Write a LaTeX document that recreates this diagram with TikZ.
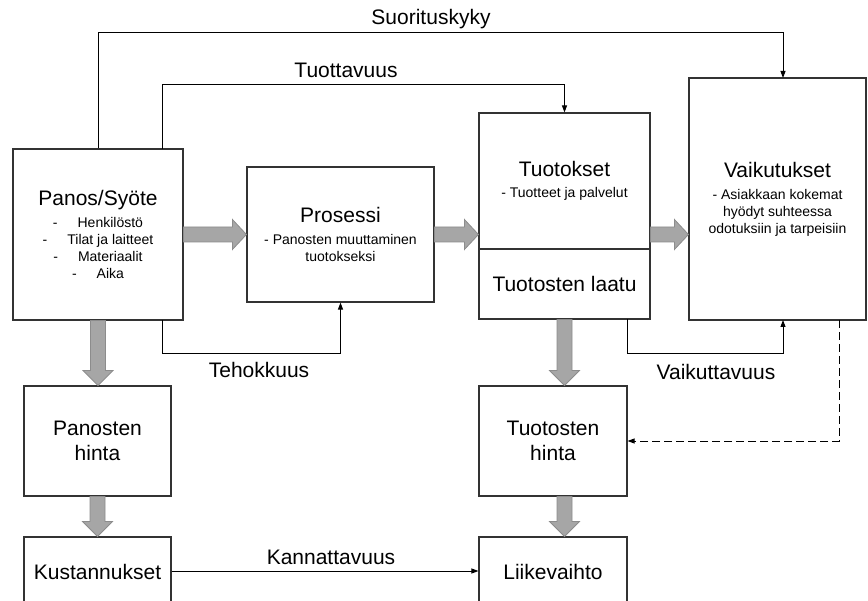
\documentclass[tikz,border=0pt]{standalone}
\usepackage{fontspec}
\setmainfont{Liberation Sans}
\usetikzlibrary{arrows.meta,calc}

\begin{document}
\begin{tikzpicture}[x=1pt,y=-1pt,
  box/.style={draw=black!80, line width=1.1pt, fill=white, inner sep=0pt,
    align=center, font=\fontsize{14}{17}\selectfont},
  bigbox/.style={box, font=\fontsize{21}{25}\selectfont},
  lbl/.style={inner sep=0pt, font=\fontsize{21}{25}\selectfont},
  conn/.style={draw=black, line width=0.9pt, -{Triangle[length=7pt,width=5pt]}},
  dconn/.style={conn, dash pattern=on 8pt off 4pt},
  blockarrow/.style={fill=black!35, draw=black!45, line width=0.8pt},
  % broad arrow pointing down: x taken from the start, tip at the target's y
  fatdown/.style={blockarrow, to path={
    let \p1=(\tikztostart), \p2=(\tikztotarget) in
    (\x1-7.5pt,\y1) -- (\x1-7.5pt,\y2+15pt) -- (\x1-15pt,\y2+15pt) -- (\x1,\y2)
    -- (\x1+15pt,\y2+15pt) -- (\x1+7.5pt,\y2+15pt) -- (\x1+7.5pt,\y1) -- cycle}},
  % broad arrow pointing right: y taken from the start, tip at the target's x
  fatright/.style={blockarrow, to path={
    let \p1=(\tikztostart), \p2=(\tikztotarget) in
    (\x1,\y1+7.5pt) -- (\x2-14pt,\y1+7.5pt) -- (\x2-14pt,\y1+15pt) -- (\x2,\y1)
    -- (\x2-14pt,\y1-15pt) -- (\x2-14pt,\y1-7.5pt) -- (\x1,\y1-7.5pt) -- cycle}}
]
\useasboundingbox (0,0) rectangle (868,601);
\clip (0,0) rectangle (868,601);

% boxes
\node[box, minimum width=170pt, minimum height=171pt] (pan) at (98,234.5)
  {{\fontsize{21}{17}\selectfont Panos/Syöte}\\[5pt]
   -\hspace{20pt}Henkilöstö\\
   -\hspace{20pt}Tilat ja laitteet\\
   -\hspace{20pt}Materiaalit\\
   -\hspace{20pt}Aika};
\node[box, minimum width=187pt, minimum height=135pt] (pro) at (340.5,234.5)
  {{\fontsize{21}{17}\selectfont Prosessi}\\[5pt]
   - Panosten muuttaminen\\ tuotokseksi};
\node[box, minimum width=171pt, minimum height=136pt] (tuo) at (564.5,181)
  {{\fontsize{21}{17}\selectfont Tuotokset}\\[4pt]
   - Tuotteet ja palvelut};
\node[bigbox, minimum width=171pt, minimum height=70pt] (tql) at (564.5,284)
  {Tuotosten laatu};
\node[box, minimum width=177pt, minimum height=242pt] (vai) at (777.5,199)
  {{\fontsize{21}{17}\selectfont Vaikutukset}\\[5pt]
   - Asiakkaan kokemat\\ hyödyt suhteessa\\ odotuksiin ja tarpeisiin};
\node[bigbox, minimum width=147pt, minimum height=110pt] (ph) at (97.5,441)
  {Panosten\\hinta};
\node[bigbox, minimum width=147pt, minimum height=70pt] (kus) at (97.5,572)
  {Kustannukset};
\node[bigbox, minimum width=148pt, minimum height=110pt] (th) at (553,441)
  {Tuotosten\\hinta};
\node[bigbox, minimum width=148pt, minimum height=70pt] (lv) at (553,572)
  {Liikevaihto};

% attachment points on box edges and routing heights
\coordinate (panT) at (162,149);
\coordinate (panB) at (162,320);
\coordinate (tqlB) at (627,319);
\coordinate (vaiT) at (783,78);
\coordinate (vaiB) at (783,320);
\coordinate (vaiD) at (839,320);
\coordinate (ysk) at (0,32);
\coordinate (ytu) at (0,84);
\coordinate (yte) at (0,353);

% broad flow arrows
\path[fatright] (pan.east) to (pro.west);
\path[fatright] (pro.east) to (tuo.west);
\path[fatright] (tuo.east |- pro.east) to (vai.west);
\path[fatdown] (pan.south) to (ph.north);
\path[fatdown] (ph.south) to (kus.north);
\path[fatdown] (tql.south) to (th.north);
\path[fatdown] (tql.south |- th.south) to (lv.north);

% measure connectors
\draw[conn] (pan.north) |- (vaiT |- ysk) -- (vaiT);
\draw[conn] (panT) |- (tuo.north |- ytu) -- (tuo.north);
\draw[conn] (panB) |- (pro.south |- yte) -- (pro.south);
\draw[conn] (tqlB) |- (vaiB |- yte) -- (vaiB);
\draw[dconn] (vaiD) |- (th.east);
\draw[conn] (kus.east |- 0,571) -- (lv.west |- 0,571);

% measure labels
\node[lbl] (lsk) at (431,19) {Suorituskyky};
\node[lbl] (ltu) at (346,70) {Tuottavuus};
\node[lbl] (lte) at (259,370) {Tehokkuus};
\node[lbl] (lva) at (716,372) {Vaikuttavuus};
\node[lbl] (lka) at (331,557) {Kannattavuus};
\end{tikzpicture}
\end{document}
